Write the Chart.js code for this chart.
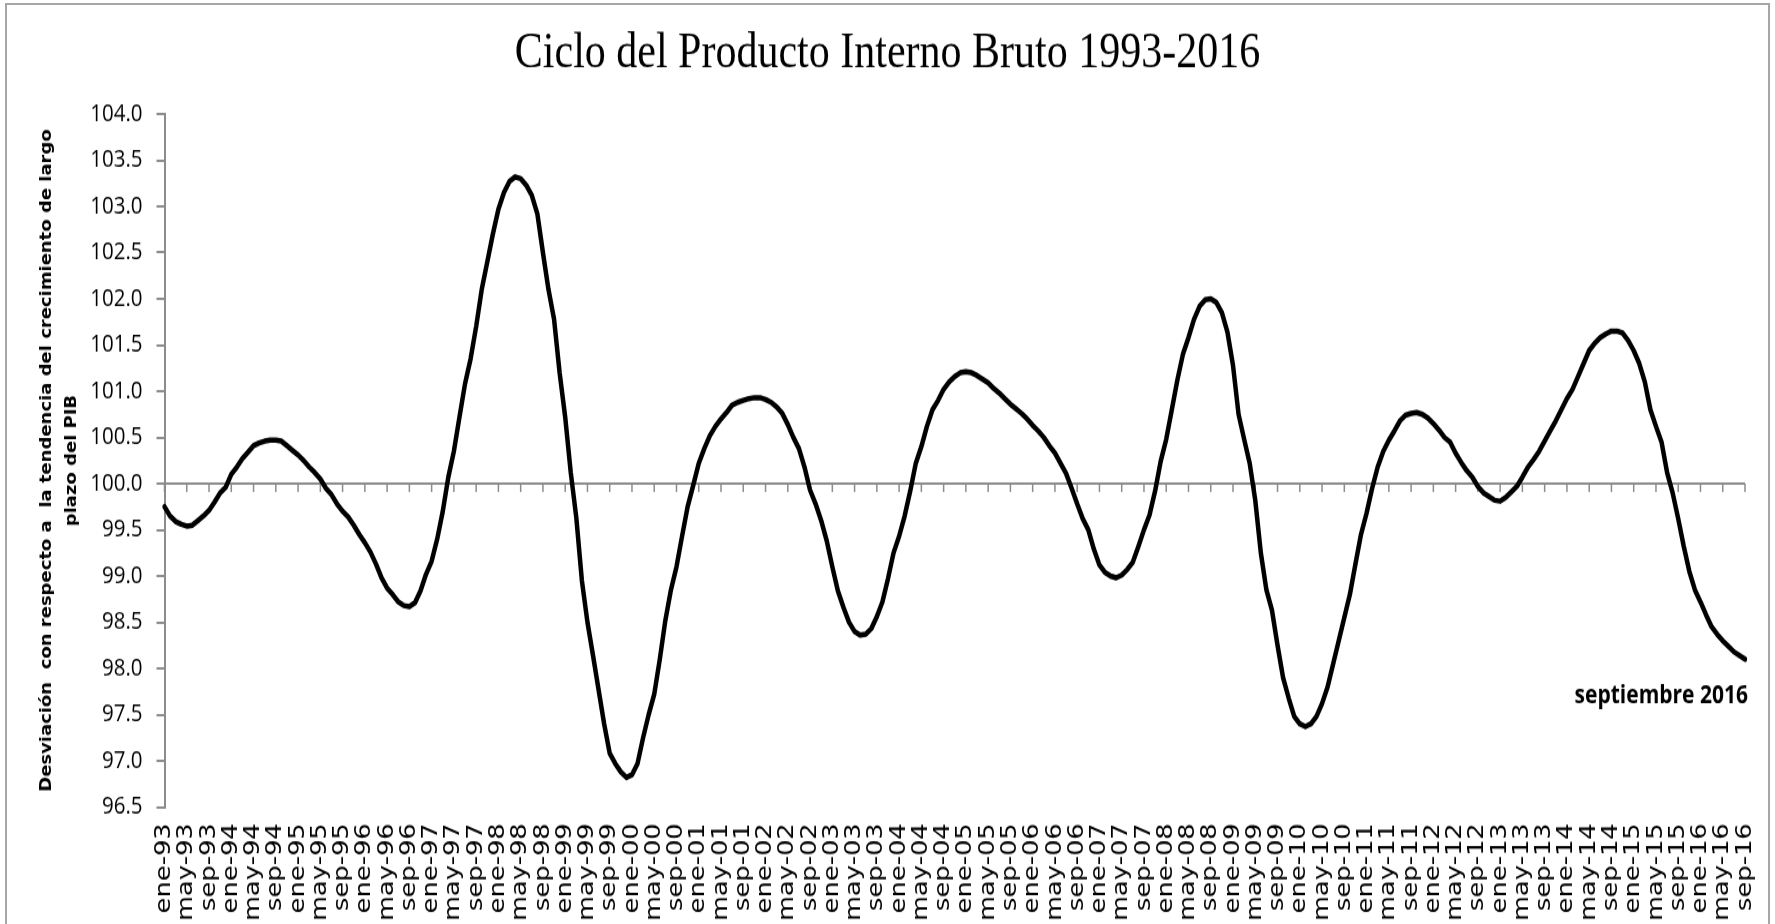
<!DOCTYPE html>
<html lang="es">
<head>
<meta charset="utf-8">
<title>Ciclo del Producto Interno Bruto 1993-2016</title>
<script src="https://cdn.jsdelivr.net/npm/chart.js@4.4.0/dist/chart.umd.min.js"></script>
<style>
    html, body { margin: 0; padding: 0; background: #fff; overflow: hidden; }
    /* the original picture is stretched vertically, so the chart is drawn at 770px and scaled to 924px */
    #wrap { position: absolute; left: 0; top: 0; width: 1775px; height: 770px; transform: scaleY(1.2); transform-origin: 0 0; }
    #frame { position: absolute; left: 5px; top: 3px; width: 1765px; height: 940px; border: 2px solid #a6a6a6; box-sizing: border-box; pointer-events: none; }
</style>
</head>
<body>
<div id="wrap"><canvas id="pibChart"></canvas></div>
<div id="frame"></div>
<script>
// Categories
const meses = ["ene", "feb", "mar", "abr", "may", "jun", "jul", "ago", "sep", "oct", "nov", "dic"];
const anios = ["93", "94", "95", "96", "97", "98", "99", "00", "01", "02", "03", "04",
               "05", "06", "07", "08", "09", "10", "11", "12", "13", "14", "15", "16"];
const mesesUltimoAnio = 9; // hasta septiembre 2016
const mesesEtiqueta = ["ene", "may", "sep"];

// Y axis ticks
const yMin = 96.5;
const yMax = 104.0;
const yPaso = 0.5;
const nivelTendencia = 100;

// Series: desviación respecto a la tendencia (one row per year)
const ciclo = [
    99.75, 99.65, 99.59, 99.56, 99.54, 99.55, 99.60, 99.65, 99.71, 99.80, 99.90, 99.96,          // 1993
    100.10, 100.18, 100.27, 100.34, 100.41, 100.44, 100.46, 100.47, 100.47, 100.46, 100.41, 100.36, // 1994
    100.31, 100.25, 100.18, 100.12, 100.05, 99.95, 99.88, 99.78, 99.70, 99.64, 99.55, 99.45,      // 1995
    99.36, 99.26, 99.13, 98.98, 98.87, 98.80, 98.72, 98.68, 98.67, 98.71, 98.84, 99.02,           // 1996
    99.16, 99.40, 99.70, 100.07, 100.35, 100.72, 101.08, 101.35, 101.70, 102.10, 102.40, 102.70,  // 1997
    102.97, 103.15, 103.27, 103.32, 103.30, 103.23, 103.12, 102.92, 102.50, 102.10, 101.78, 101.20, // 1998
    100.72, 100.12, 99.63, 98.95, 98.50, 98.14, 97.77, 97.40, 97.08, 96.97, 96.88, 96.82,         // 1999
    96.85, 96.97, 97.25, 97.50, 97.72, 98.10, 98.52, 98.85, 99.10, 99.43, 99.75, 99.98,           // 2000
    100.22, 100.38, 100.52, 100.62, 100.70, 100.77, 100.85, 100.88, 100.90, 100.92, 100.93, 100.93, // 2001
    100.91, 100.88, 100.83, 100.76, 100.64, 100.50, 100.38, 100.18, 99.93, 99.78, 99.60, 99.38,   // 2002
    99.10, 98.84, 98.66, 98.50, 98.40, 98.36, 98.37, 98.43, 98.56, 98.72, 98.97, 99.25,           // 2003
    99.43, 99.65, 99.92, 100.22, 100.40, 100.62, 100.80, 100.90, 101.02, 101.10, 101.16, 101.20,  // 2004
    101.21, 101.20, 101.17, 101.13, 101.09, 101.03, 100.98, 100.92, 100.86, 100.81, 100.76, 100.70, // 2005
    100.63, 100.57, 100.50, 100.41, 100.33, 100.22, 100.11, 99.95, 99.78, 99.62, 99.50, 99.29,    // 2006
    99.12, 99.04, 99.00, 98.98, 99.01, 99.07, 99.15, 99.32, 99.50, 99.66, 99.92, 100.24,          // 2007
    100.48, 100.80, 101.12, 101.40, 101.58, 101.78, 101.92, 101.99, 102.00, 101.96, 101.85, 101.64, // 2008
    101.28, 100.75, 100.48, 100.22, 99.82, 99.25, 98.85, 98.63, 98.25, 97.90, 97.68, 97.48,       // 2009
    97.40, 97.37, 97.40, 97.48, 97.62, 97.80, 98.05, 98.30, 98.55, 98.80, 99.13, 99.45,           // 2010
    99.68, 99.95, 100.18, 100.35, 100.47, 100.57, 100.68, 100.74, 100.76, 100.77, 100.75, 100.71, // 2011
    100.65, 100.58, 100.50, 100.45, 100.33, 100.23, 100.14, 100.07, 99.97, 99.90, 99.86, 99.82,   // 2012
    99.81, 99.85, 99.91, 99.97, 100.07, 100.18, 100.26, 100.35, 100.46, 100.57, 100.68, 100.80,   // 2013
    100.92, 101.02, 101.16, 101.30, 101.44, 101.52, 101.58, 101.62, 101.65, 101.65, 101.63, 101.55, // 2014
    101.44, 101.30, 101.10, 100.80, 100.62, 100.45, 100.12, 99.90, 99.62, 99.32, 99.05, 98.85,    // 2015
    98.72, 98.58, 98.45, 98.37, 98.30, 98.24, 98.18, 98.14, 98.10                                 // 2016
];

const ultimoDato = "septiembre 2016";

// Build the category labels from months and years
const periodos = [];
anios.forEach((anio, i) => {
    meses.forEach((mes, j) => {
        if (i < anios.length - 1 || j < mesesUltimoAnio) periodos.push(`${mes}-${anio}`);
    });
});

const grisEje = "#8c8c8c";

// Horizontal axis line at 100 with its tick marks every four months
const ejeTendencia = {
    id: "ejeTendencia",
    beforeDatasetsDraw(chart) {
        const { ctx, scales: { x, y } } = chart;
        const y100 = y.getPixelForValue(nivelTendencia);
        ctx.save();
        ctx.strokeStyle = grisEje;
        ctx.lineWidth = 1.5;
        periodos.forEach((p, i) => {
            if (!mesesEtiqueta.includes(p.slice(0, 3))) return;
            const px = x.getPixelForValue(i);
            ctx.beginPath();
            ctx.moveTo(px, y100);
            ctx.lineTo(px, y100 + 7);
            ctx.stroke();
        });
        ctx.restore();
    }
};

// Note next to the last observation
const notaUltimo = {
    id: "notaUltimo",
    afterDatasetsDraw(chart) {
        const { ctx, scales: { x, y } } = chart;
        const px = x.getPixelForValue(periodos.length - 1) + 3;
        const py = y.getPixelForValue(97.7);
        ctx.save();
        ctx.font = "bold 21px 'Open Sans'";
        ctx.fillStyle = "#000";
        ctx.textAlign = "right";
        ctx.textBaseline = "middle";
        ctx.fillText(ultimoDato, px, py);
        ctx.restore();
    }
};

Chart.defaults.font.family = "'Open Sans', sans-serif";
Chart.defaults.color = "#000";

new Chart(document.getElementById("pibChart"), {
    type: "line",
    data: {
        labels: periodos,
        datasets: [{
            label: "Ciclo del PIB",
            data: ciclo,
            borderColor: "#000",
            borderWidth: 4.5,
            borderJoinStyle: "round",
            borderCapStyle: "round",
            pointRadius: 0,
            tension: 0,
            fill: false
        }]
    },
    options: {
        responsive: true,
        maintainAspectRatio: false,
        animation: false,
        layout: { padding: { left: 30, right: 30, top: 0, bottom: 0 } },
        plugins: {
            legend: { display: false },
            tooltip: { enabled: false },
            title: {
                display: true,
                text: "Ciclo del Producto Interno Bruto 1993-2016",
                color: "#000",
                font: { family: "'Liberation Serif', 'Times New Roman', serif", size: 42, weight: "normal", lineHeight: 1.2 },
                padding: { top: 19.5, bottom: 25.1 }
            }
        },
        scales: {
            x: {
                type: "category",
                offset: false,
                border: { display: false },
                grid: { display: false, drawTicks: false },
                ticks: {
                    autoSkip: false,
                    minRotation: 90,
                    maxRotation: 90,
                    padding: 13.5,
                    color: "#000",
                    font: { family: "'DejaVu Sans'", size: 21.5 },
                    callback(value) {
                        const etiqueta = this.getLabelForValue(value);
                        return mesesEtiqueta.includes(etiqueta.slice(0, 3)) ? etiqueta : "";
                    }
                },
                afterFit(scale) {
                    scale.height = 97.5;
                    scale.paddingLeft = 0;
                    scale.paddingRight = 0;
                }
            },
            y: {
                min: yMin,
                max: yMax,
                border: { display: true, color: grisEje, width: 2 },
                grid: {
                    drawOnChartArea: true,
                    drawTicks: true,
                    tickLength: 8,
                    tickWidth: 2,
                    tickColor: grisEje,
                    lineWidth: 2,
                    color: (c) => (c.tick && c.tick.value === nivelTendencia ? grisEje : "rgba(0,0,0,0)")
                },
                ticks: {
                    stepSize: yPaso,
                    padding: 14,
                    color: "#000",
                    font: { family: "'Open Sans'", size: 20.5 },
                    callback: (v) => Number(v).toFixed(1)
                },
                title: {
                    display: true,
                    text: ["Desviación  con respecto a  la tendencia del crecimiento de largo", "plazo del PIB"],
                    color: "#000",
                    font: { family: "'DejaVu Sans'", size: 15, weight: "bold", lineHeight: "25px" },
                    padding: { top: 4.5, bottom: 0 }
                },
                afterFit(scale) {
                    scale.width = 134.5;
                }
            }
        }
    },
    plugins: [ejeTendencia, notaUltimo]
});
</script>
</body>
</html>
